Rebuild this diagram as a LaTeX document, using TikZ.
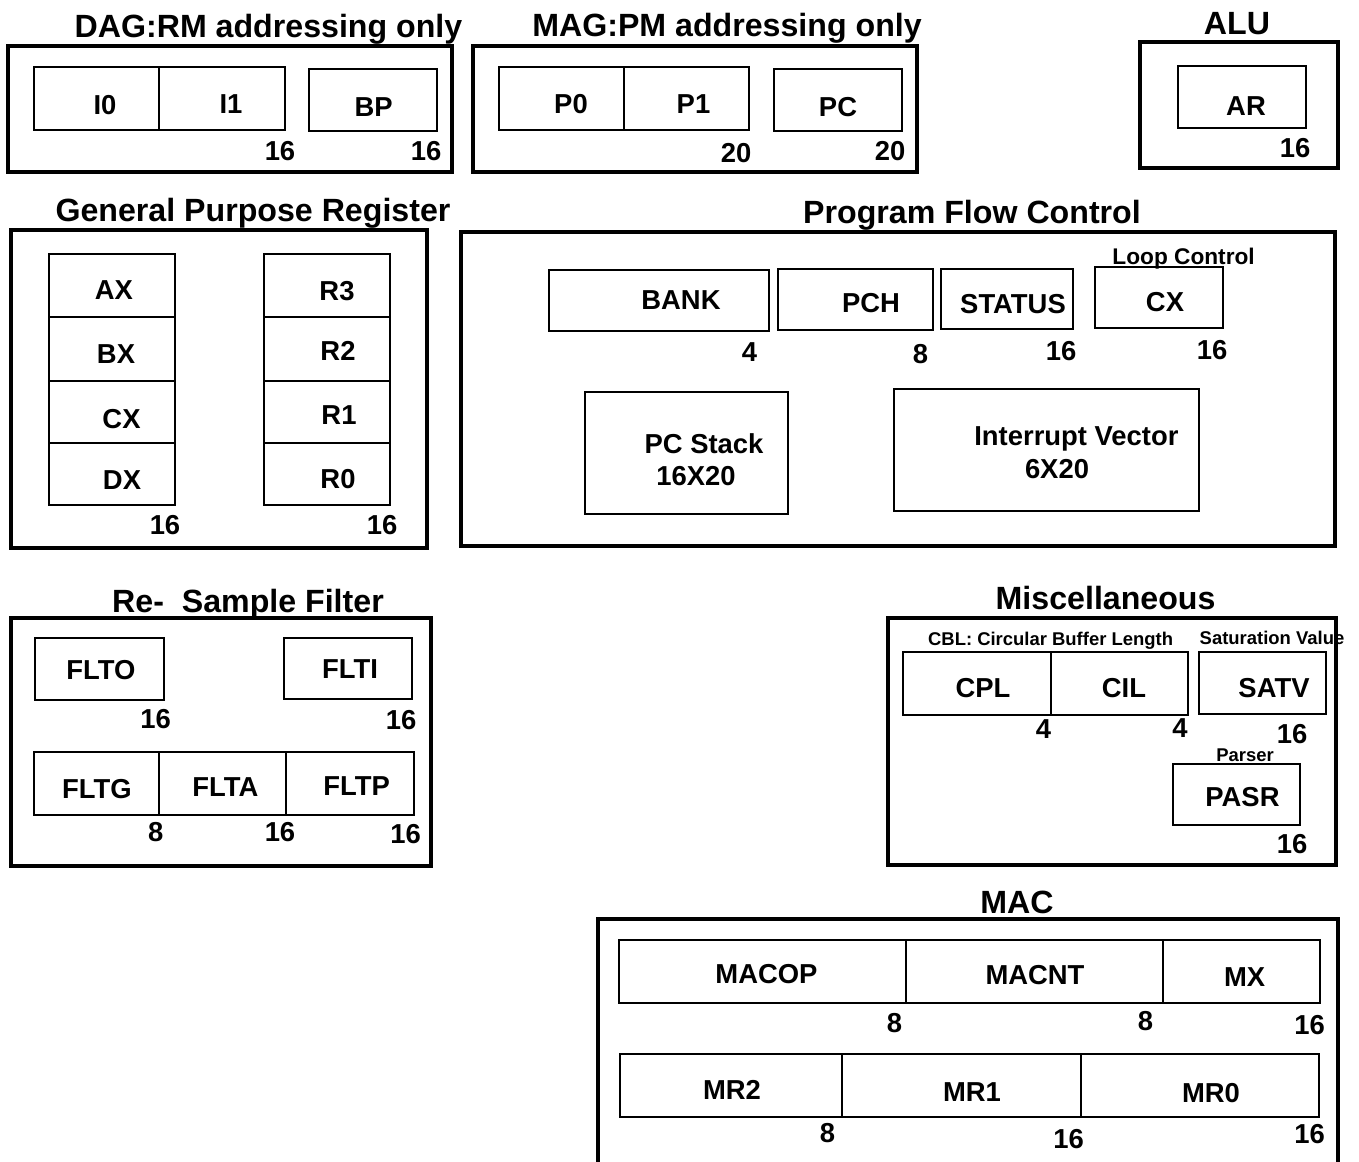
\documentclass[tikz,border=0pt]{standalone}
\usepackage{fontspec}
\setmainfont{Liberation Sans}
\usepackage{tikz}

\tikzset{
  groupbox/.style={draw, line width=2.5pt},
  fieldbox/.style={draw, line width=1.4pt},
  divline/.style={line width=1pt},
  grouptitle/.style={anchor=base, inner sep=0pt, font=\fontsize{18.3}{22}\selectfont\bfseries},
  reglabel/.style={anchor=base, inner sep=0pt, font=\fontsize{15.6}{19}\selectfont\bfseries},
  bitwidth/.style={reglabel},
  smallnote/.style={anchor=base, inner sep=0pt, font=\fontsize{10.5}{12}\selectfont\bfseries},
}

\begin{document}
\begin{tikzpicture}[x=0.02cm, y=-0.02cm]
  \useasboundingbox (0,0) rectangle (1359,1162);

  % group frames
  \foreach \xa/\ya/\xb/\yb in {8/46/452/172, 473/46/917/172, 1140/42/1338/168,
      11/230/427/548, 461/232/1335/546, 11/618/431/866,
      888/618/1336/865, 598/919/1338/1185}
    \draw[groupbox] (\xa,\ya) rectangle (\xb,\yb);

  % register fields
  \foreach \xa/\ya/\xb/\yb in {34/67/285/130, 309/69/437/131, 499/67/749/130,
      774/69/902/131, 1178/66/1306/128, 49/254/175/505, 264/254/390/505,
      549/270/769/331, 778/269/933/330, 941/269/1073/329, 1095/267/1223/328,
      585/392/788/514, 894/389/1199/511, 35/638/164/700, 284/638/412/699,
      34/752/414/815, 903/652/1188/715, 1199/652/1326/714, 1173/764/1300/825,
      619/940/1320/1003, 620/1054/1319/1117}
    \draw[fieldbox] (\xa,\ya) rectangle (\xb,\yb);

  % splits inside a field
  \foreach \x/\ya/\yb in {159/67/130, 624/67/130, 159/752/815, 286/752/815,
      1051/652/715, 906/940/1003, 1163/940/1003, 842/1054/1117, 1081/1054/1117}
    \draw[divline] (\x,\ya) -- (\x,\yb);
  \foreach \y in {317,381,443} {
    \draw[fieldbox] (49,\y) -- (175,\y);
    \draw[fieldbox] (264,\y) -- (390,\y);
  }

  % titles
  \foreach \x/\y/\t [count=\k] in {268.5/37.5/{DAG:RM addressing only},
      727/37/{MAG:PM addressing only}, 1237/35/ALU,
      253/222/{General Purpose Register}, 972/224/{Program Flow Control},
      248/612.7/{Re-\ \ Sample Filter}, 1105.6/609/Miscellaneous, 1017/913/MAC}
    \node[grouptitle] (t\k) at (\x,\y) {\t};

  % register names
  \foreach \x/\y/\t [count=\k] in {105/115/I0, 231/114/I1, 373.6/116.5/BP,
      571/113.6/P0, 693.5/113.6/P1, 838/116.8/PC, 1246/115.4/AR,
      113.8/299/AX, 116/363/BX, 121.5/428/CX, 122/489/DX,
      337/300/R3, 338/360/R2, 339/424/R1, 338/488.6/R0,
      681/309/BANK, 871/313/PCH, 1013/313.6/STATUS, 1165/311.4/CX,
      704/453/{PC Stack}, 696/485.7/16X20, 1076.4/445.7/{Interrupt Vector}, 1057/478.6/6X20,
      100.8/679.3/FLTO, 350/678.3/FLTI, 97/798/FLTG, 225.4/796/FLTA, 356.7/795/FLTP,
      983/697/CPL, 1124/697/CIL, 1274/697.4/SATV, 1242.5/806.4/PASR,
      766.5/983/MACOP, 1035/984/MACNT, 1244.7/986/MX,
      732/1099.3/MR2, 972/1101/MR1, 1211/1102/MR0}
    \node[reglabel] (r\k) at (\x,\y) {\t};

  % bit widths
  \foreach \x/\y/\t [count=\k] in {280/161/16, 426/161/16, 736/162.5/20, 890/160.7/20,
      1295/158/16, 165/534.6/16, 382/534.6/16,
      749.6/361.8/4, 920.6/363.6/8, 1061/360.7/16, 1212/359/16,
      155.7/728.3/16, 401/729/16, 155.7/841.7/8, 280/841.7/16, 405.7/843.3/16,
      1043.5/738.5/4, 1180/737.4/4, 1292/743.5/16, 1292/853.7/16,
      894.5/1032/8, 1145.4/1030/8, 1309.6/1034/16,
      827.6/1142/8, 1068.5/1148.5/16, 1309.6/1143.5/16}
    \node[bitwidth] (w\k) at (\x,\y) {\t};

  % notes
  \node[smallnote, font=\fontsize{12.9}{15}\selectfont\bfseries] (loopnote) at (1183.6,264.3) {Loop Control};
  \node[smallnote] (cblnote) at (1050.6,645) {CBL: Circular Buffer Length};
  \node[smallnote] (satnote) at (1272,644.5) {Saturation Value};
  \node[smallnote] (parsenote) at (1245,761.5) {Parser};
\end{tikzpicture}
\end{document}
